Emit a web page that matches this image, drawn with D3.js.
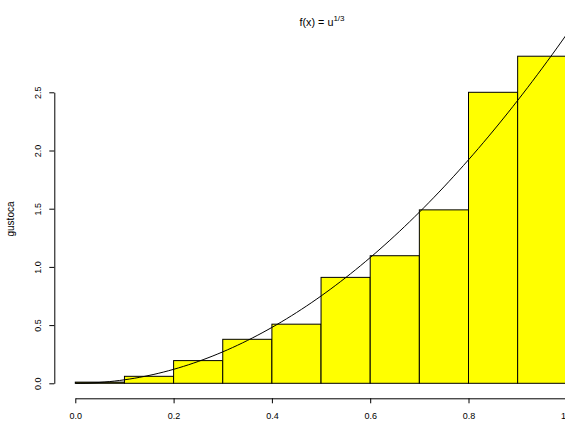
<!DOCTYPE html>
<html>
<head>
<meta charset="utf-8">
<script src="https://cdn.jsdelivr.net/npm/d3@7/dist/d3.min.js"></script>
<style>
  html, body { margin: 0; padding: 0; background: #fff; }
  svg { display: block; font-family: "Liberation Sans", Arial, sans-serif; }
</style>
</head>
<body>
<svg id="chart" width="565" height="438"></svg>
<script>
// Histogram of u^(1/3): bin edges and density per bin
const binEdges = [0.0, 0.1, 0.2, 0.3, 0.4, 0.5, 0.6, 0.7, 0.8, 0.9, 1.0];
const densities = [0.01, 0.06, 0.195, 0.378, 0.508, 0.91, 1.096, 1.49, 2.50, 2.81];
const xTicks = [0.0, 0.2, 0.4, 0.6, 0.8, 1.0];
const yTicks = [0.0, 0.5, 1.0, 1.5, 2.0, 2.5];
// Theoretical density f(x) = 3x^2, sampled on a grid
const curveX = d3.range(0, 101).map(i => i / 100);
const curveY = curveX.map(v => 3 * v * v);

const svg = d3.select("#chart");
const x = d3.scaleLinear().domain([0, 1]).range([75.3, 566.8]);
const y = d3.scaleLinear().domain([0, 2.5]).range([383.3, 92.3]);

const bins = densities.map((d, i) => ({ x0: binEdges[i], x1: binEdges[i + 1], d }));

svg.append("g").selectAll("rect").data(bins).join("rect")
  .attr("x", b => x(b.x0))
  .attr("y", b => y(b.d))
  .attr("width", b => x(b.x1) - x(b.x0))
  .attr("height", b => y(0) - y(b.d))
  .attr("fill", "#ffff00")
  .attr("stroke", "#000")
  .attr("stroke-width", 1);

const line = d3.line().x((d, i) => x(curveX[i])).y(d => y(d));
svg.append("path").datum(curveY)
  .attr("d", line)
  .attr("fill", "none")
  .attr("stroke", "#000")
  .attr("stroke-width", 1);

// x axis
const xAxis = d3.axisBottom(x).tickValues(xTicks).tickSize(5).tickSizeOuter(0)
  .tickPadding(9).tickFormat(d3.format(".1f"));
const gx = svg.append("g").attr("transform", "translate(0,398.3)").call(xAxis);
gx.selectAll("text").attr("font-size", 9).attr("fill", "#000").attr("font-family", "Liberation Sans, Arial, sans-serif");
gx.selectAll("line, path").attr("stroke", "#000");

// y axis with rotated labels
const yAxis = d3.axisLeft(y).tickValues(yTicks).tickSize(5).tickSizeOuter(0)
  .tickFormat(d3.format(".1f"));
const gy = svg.append("g").attr("transform", "translate(54.3,0)").call(yAxis);
gy.selectAll("line, path").attr("stroke", "#000");
gy.selectAll("text")
  .attr("font-size", 9).attr("fill", "#000").attr("font-family", "Liberation Sans, Arial, sans-serif")
  .attr("x", null).attr("dy", null)
  .attr("text-anchor", "middle")
  .attr("transform", "translate(-13.8,0) rotate(-90)");

// titles
const title = svg.append("text").attr("x", 322).attr("y", 26)
  .attr("text-anchor", "middle").attr("font-size", 10.8).attr("fill", "#000");
title.append("tspan").text("f(x) = u");
title.append("tspan").attr("dy", -5).attr("font-size", 8).text("1/3");

svg.append("text").attr("transform", "translate(14,219) rotate(-90)")
  .attr("text-anchor", "middle").attr("font-size", 10).attr("fill", "#000").text("gustoca");

svg.append("text").attr("x", 321).attr("y", 444)
  .attr("text-anchor", "middle").attr("font-size", 9).attr("fill", "#000").text("x");
</script>
</body>
</html>
